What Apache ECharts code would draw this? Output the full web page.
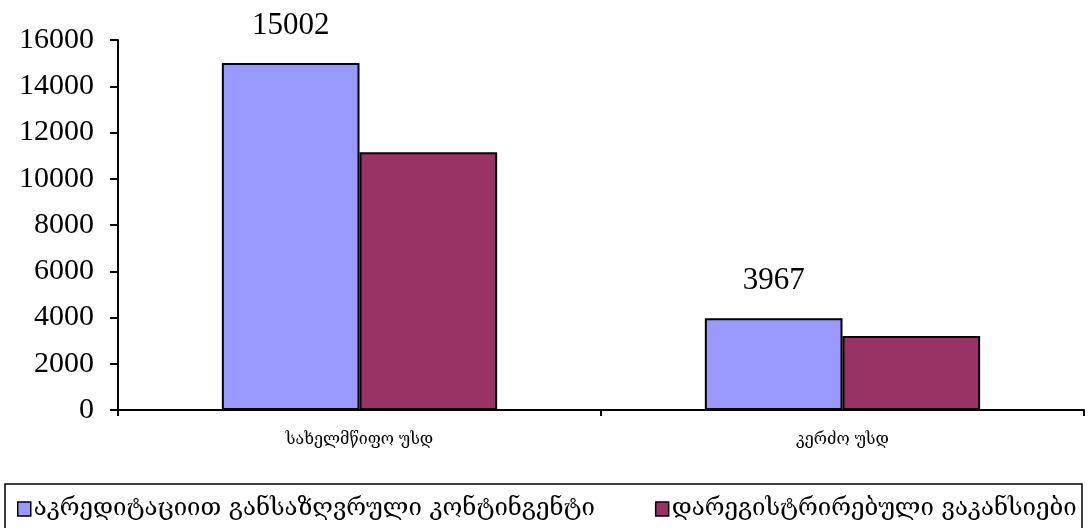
<!DOCTYPE html>
<html>
<head>
<meta charset="utf-8">
<script src="https://cdn.jsdelivr.net/npm/echarts@6/dist/echarts.min.js"></script>
<style>html,body{margin:0;padding:0;background:#fff}#c{width:1088px;height:528px}</style>
</head>
<body>
<div id="c"></div>
<script>
const categories = ['სახელმწიფო უსდ', 'კერძო უსდ'];
const seriesNames = ['აკრედიტაციით განსაზღვრული კონტინგენტი', 'დარეგისტრირებული ვაკანსიები'];
const contingent = [15002, 3967];
const vacancies = [11150, 3200];
const yTicks = [0, 2000, 4000, 6000, 8000, 10000, 12000, 14000, 16000];

const chart = echarts.init(document.getElementById('c'));
const geo = '"DejaVu Serif", "DejaVu Sans", serif';
const num = '"Liberation Serif", serif';
chart.setOption({
  animation: false,
  backgroundColor: '#fff',
  grid: { left: 118, right: 4, top: 40, bottom: 118, containLabel: false },
  legend: {
    left: 12, top: 492, itemGap: 60, itemWidth: 13, itemHeight: 14,
    icon: 'rect',
    itemStyle: { borderColor: '#000', borderWidth: 1.5 },
    textStyle: { fontFamily: geo, fontSize: 24, color: '#000', padding: [0, 0, 0, -2] },
    data: seriesNames
  },
  graphic: [{
    type: 'rect', shape: { x: 5, y: 484, width: 1077, height: 60 },
    style: { fill: 'none', stroke: '#000', lineWidth: 1.5 }, z: 0, silent: true
  }],
  xAxis: {
    type: 'category', data: categories,
    axisLine: { lineStyle: { color: '#000', width: 2 } },
    axisTick: { show: true, length: 6, lineStyle: { color: '#000', width: 2 } },
    axisLabel: { fontFamily: geo, fontSize: 16, color: '#000', margin: 22 }
  },
  yAxis: {
    type: 'value', min: yTicks[0], max: yTicks[yTicks.length - 1], interval: 2000,
    splitLine: { show: false },
    axisLine: { show: true, lineStyle: { color: '#000', width: 2 } },
    axisTick: { show: true, length: 8, lineStyle: { color: '#000', width: 2 } },
    axisLabel: {
      fontFamily: num, fontSize: 30, letterSpacing: -1.5, color: '#000', margin: 24,
      formatter: v => String(v)
    }
  },
  series: [
    {
      name: seriesNames[0], type: 'bar', data: contingent,
      barGap: '0%', barCategoryGap: '43%',
      itemStyle: { color: '#9999FF', borderColor: '#000', borderWidth: 2 },
      label: { show: true, position: 'top', distance: 22, fontFamily: num, fontSize: 31, letterSpacing: -1.5, color: '#000' }
    },
    {
      name: seriesNames[1], type: 'bar', data: vacancies,
      itemStyle: { color: '#993366', borderColor: '#000', borderWidth: 2 }
    }
  ]
});
</script>
</body>
</html>
